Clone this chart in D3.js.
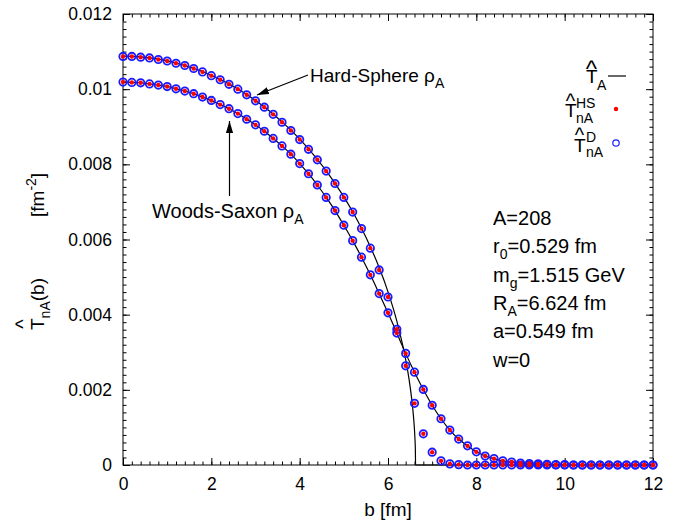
<!DOCTYPE html>
<html>
<head>
<meta charset="utf-8">
<script src="https://cdn.jsdelivr.net/npm/d3@7"></script>
<style>
body { margin: 0; background: #fff; }
text { font-family: "Liberation Sans", Arial, Helvetica, sans-serif; fill: #000; }
</style>
</head>
<body>
<div id="chart"></div>
<script>
// impact parameter grid of the points [fm]
var bGrid = [0,0.2,0.4,0.6,0.8,1,1.2,1.4,1.6,1.8,2,2.2,2.4,2.6,2.8,3,3.2,3.4,3.6,3.8,
  4,4.2,4.4,4.6,4.8,5,5.2,5.4,5.6,5.8,6,6.2,6.4,6.6,6.8,7,7.2,7.4,7.6,7.8,
  8,8.2,8.4,8.6,8.8,9,9.2,9.4,9.6,9.8,10,10.2,10.4,10.6,10.8,11,11.2,11.4,11.6,11.8,12];

// T_nA points, hard-sphere density (HS and D points lie on top of each other)
var hsTnA = [0.01087,0.01087,0.01085,0.01083,0.01079,0.01075,0.01069,0.01063,0.01055,0.01046,
  0.01036,0.01025,0.01013,0.01000,0.00985,0.00969,0.00952,0.00933,0.00912,0.00890,
  0.00866,0.00840,0.00812,0.00782,0.00749,0.00712,0.00673,0.00629,0.00577,0.00519,
  0.00447,0.00361,0.00264,0.00164,0.00083,0.00034,0.00011,0.00003,0.00001,0,
  0,0,0,0,0,0,0,0,0,0,0,0,0,0,0,0,0,0,0,0,0];

// T_nA points, Woods-Saxon density
var wsTnA = [0.01019,0.01018,0.01017,0.01014,0.01011,0.01007,0.01001,0.00995,0.00988,0.00979,
  0.00970,0.00959,0.00948,0.00935,0.00920,0.00905,0.00888,0.00869,0.00849,0.00827,
  0.00802,0.00775,0.00745,0.00712,0.00677,0.00638,0.00597,0.00553,0.00506,0.00456,
  0.00405,0.00351,0.00297,0.00247,0.00201,0.00159,0.00123,0.00093,0.00069,0.00051,
  0.00035,0.00024,0.00017,0.00011,0.00008,0.00005,0.00004,0.00003,0.00002,0.00001,
  0.00001,0,0,0,0,0,0,0,0,0,0];

// T_A curve, Woods-Saxon (same grid)
var wsTA = [0.01019,0.01018,0.01017,0.01014,0.01011,0.01007,0.01001,0.00995,0.00988,0.00979,
  0.00970,0.00959,0.00948,0.00935,0.00920,0.00905,0.00888,0.00869,0.00849,0.00827,
  0.00802,0.00775,0.00745,0.00712,0.00677,0.00638,0.00597,0.00553,0.00506,0.00456,
  0.00405,0.00351,0.00297,0.00247,0.00201,0.00159,0.00123,0.00093,0.00069,0.00051,
  0.00035,0.00024,0.00017,0.00011,0.00008,0.00005,0.00004,0.00003,0.00002,0.00001,
  0.00001,0,0,0,0,0,0,0,0,0,0];

// T_A curve, hard sphere (denser near the edge)
var hsCurveB = [0,0.2,0.4,0.6,0.8,1,1.2,1.4,1.6,1.8,2,2.2,2.4,2.6,2.8,3,3.2,3.4,3.6,3.8,
  4,4.2,4.4,4.6,4.8,5,5.2,5.4,5.6,5.8,6,6.2,6.4,6.45,6.5,6.55,6.58,6.6,6.61,6.62,6.624,12];
var hsCurveT = [0.010877,0.010872,0.010857,0.010832,0.010797,0.010752,0.010697,0.010631,0.010555,0.010467,
  0.010369,0.010259,0.010138,0.010004,0.009857,0.009697,0.009523,0.009334,0.009130,0.008909,
  0.008670,0.008411,0.008130,0.007826,0.007495,0.007134,0.006738,0.006299,0.005809,0.005254,
  0.004608,0.003829,0.002804,0.002476,0.002094,0.001621,0.001251,0.000924,0.000706,0.000377,0,0];

var xTicks = [0,2,4,6,8,10,12];
var yTicks = [0,0.002,0.004,0.006,0.008,0.01,0.012];
var yTickLabels = ["0","0.002","0.004","0.006","0.008","0.01","0.012"];

// parameter block: [main, subscript, rest]
var params = [["A=208","",""],["r","0","=0.529 fm"],["m","g","=1.515 GeV"],
  ["R","A","=6.624 fm"],["a=0.549 fm","",""],["w=0","",""]];

var width = 680, height = 522;
var padL = 123, padR = 653, padT = 14, padB = 465;

var svg = d3.select("#chart").append("svg")
  .attr("width", width)
  .attr("height", height);

svg.append("rect").attr("width", width).attr("height", height).attr("fill", "#fff");

var x = d3.scaleLinear().domain([0, 12]).range([padL, padR]);
var y = d3.scaleLinear().domain([0, 0.012]).range([padB, padT]);

// minor ticks (inward, all four sides)
function minor(axis, tr) {
  var g = svg.append("g").attr("transform", tr).call(axis);
  g.select(".domain").remove();
  g.selectAll("text").remove();
  g.selectAll("line").attr("stroke", "#000");
}
minor(d3.axisBottom(x).ticks(60).tickSize(-3.5), "translate(0," + padB + ")");
minor(d3.axisTop(x).ticks(60).tickSize(-3.5), "translate(0," + padT + ")");
minor(d3.axisLeft(y).ticks(60).tickSize(-3.5), "translate(" + padL + ",0)");
minor(d3.axisRight(y).ticks(60).tickSize(-3.5), "translate(" + padR + ",0)");

// major ticks
var gx = svg.append("g").attr("transform", "translate(0," + padB + ")")
  .call(d3.axisBottom(x).tickValues(xTicks).tickSize(-7).tickPadding(13).tickFormat(d3.format("d")));
var gxt = svg.append("g").attr("transform", "translate(0," + padT + ")")
  .call(d3.axisTop(x).tickValues(xTicks).tickSize(-7).tickFormat(""));
var gy = svg.append("g").attr("transform", "translate(" + padL + ",0)")
  .call(d3.axisLeft(y).tickValues(yTicks).tickSize(-7).tickPadding(11)
    .tickFormat(function(d, i) { return yTickLabels[i]; }));
var gyr = svg.append("g").attr("transform", "translate(" + padR + ",0)")
  .call(d3.axisRight(y).tickValues(yTicks).tickSize(-7).tickFormat(""));
[gx, gxt, gy, gyr].forEach(function(g) {
  g.select(".domain").remove();
  g.selectAll("line").attr("stroke", "#000");
  g.selectAll("text").attr("font-size", 17.5).attr("fill", "#000")
    .style("font-family", "'Liberation Sans', Arial, sans-serif");
});

// frame
svg.append("rect")
  .attr("x", padL).attr("y", padT)
  .attr("width", padR - padL).attr("height", padB - padT)
  .attr("fill", "none").attr("stroke", "#000").attr("stroke-width", 1);

// T_A curves
var line = d3.line()
  .x(function(d) { return x(d[0]); })
  .y(function(d) { return y(d[1]); })
  .curve(d3.curveMonotoneX);

svg.append("path")
  .datum(hsCurveB.map(function(b, i) { return [b, hsCurveT[i]]; }))
  .attr("d", line).attr("fill", "none").attr("stroke", "#000").attr("stroke-width", 1.2);
svg.append("path")
  .datum(bGrid.map(function(b, i) { return [b, wsTA[i]]; }))
  .attr("d", line).attr("fill", "none").attr("stroke", "#000").attr("stroke-width", 1.2);

// points: blue open circles (D) under red dots (HS)
[hsTnA, wsTnA].forEach(function(vals) {
  var pts = bGrid.map(function(b, i) { return [b, vals[i]]; });
  svg.append("g").selectAll("circle").data(pts).enter().append("circle")
    .attr("cx", function(d) { return x(d[0]); })
    .attr("cy", function(d) { return y(d[1]); })
    .attr("r", 3.7)
    .attr("fill", "none").attr("stroke", "#1a1aff").attr("stroke-width", 1.8);
});
[hsTnA, wsTnA].forEach(function(vals) {
  var pts = bGrid.map(function(b, i) { return [b, vals[i]]; });
  svg.append("g").selectAll("circle").data(pts).enter().append("circle")
    .attr("cx", function(d) { return x(d[0]); })
    .attr("cy", function(d) { return y(d[1]); })
    .attr("r", 2.2)
    .attr("fill", "#ff0000");
});

// arrows
var defs = svg.append("defs");
defs.append("marker").attr("id", "head")
  .attr("viewBox", "0 0 10 10").attr("refX", 10).attr("refY", 5)
  .attr("markerWidth", 12).attr("markerHeight", 12).attr("markerUnits", "userSpaceOnUse")
  .attr("orient", "auto")
  .append("path").attr("d", "M0,2 L10,5 L0,8 Z").attr("fill", "#000");

svg.append("line").attr("x1", 308).attr("y1", 75).attr("x2", 257).attr("y2", 95)
  .attr("stroke", "#000").attr("stroke-width", 1.2).attr("marker-end", "url(#head)");
svg.append("line").attr("x1", 229.5).attr("y1", 196).attr("x2", 229.5).attr("y2", 121)
  .attr("stroke", "#000").attr("stroke-width", 1.2).attr("marker-end", "url(#head)");

// labels with subscripts
function subText(px, py, main, sub, rest, size, subSize) {
  var t = svg.append("text").attr("x", px).attr("y", py).attr("font-size", size);
  t.append("tspan").text(main);
  if (sub) t.append("tspan").attr("dy", 6).attr("font-size", subSize).text(sub);
  if (rest) t.append("tspan").attr("dy", sub ? -6 : 0).text(rest);
  return t;
}
subText(310, 82, "Hard-Sphere \u03c1", "A", "", 19, 14);
subText(152, 218, "Woods-Saxon \u03c1", "A", "", 20, 14);

params.forEach(function(p, i) {
  subText(493, 225 + i * 28.3, p[0], p[1], p[2], 20, 14);
});

// legend
function hat(cx, by, size) {
  svg.append("text").attr("x", cx).attr("y", by).attr("text-anchor", "middle")
    .attr("font-size", size).text("^");
}
svg.append("text").attr("x", 586).attr("y", 83).attr("font-size", 19).text("T");
svg.append("text").attr("x", 597).attr("y", 90).attr("font-size", 14).text("A");
hat(591.5, 77, 24);
svg.append("line").attr("x1", 608).attr("x2", 626).attr("y1", 76).attr("y2", 76)
  .attr("stroke", "#000").attr("stroke-width", 1.2);

svg.append("text").attr("x", 565).attr("y", 117).attr("font-size", 19).text("T");
svg.append("text").attr("x", 576).attr("y", 108).attr("font-size", 14).text("HS");
svg.append("text").attr("x", 576).attr("y", 123).attr("font-size", 14).text("nA");
hat(570.5, 108, 20);
svg.append("circle").attr("cx", 616).attr("cy", 109).attr("r", 2.2).attr("fill", "#ff0000");

svg.append("text").attr("x", 574).attr("y", 152).attr("font-size", 19).text("T");
svg.append("text").attr("x", 586).attr("y", 142).attr("font-size", 14).text("D");
svg.append("text").attr("x", 586).attr("y", 157).attr("font-size", 14).text("nA");
hat(579.5, 142, 20);
svg.append("circle").attr("cx", 616).attr("cy", 143).attr("r", 3.2)
  .attr("fill", "none").attr("stroke", "#1a1aff").attr("stroke-width", 1.2);

// axis titles
svg.append("text").attr("x", 388).attr("y", 516).attr("text-anchor", "middle")
  .attr("font-size", 19).text("b [fm]");

var yl = svg.append("g").attr("transform", "translate(44,0) rotate(-90)");
var ylt = yl.append("text").attr("x", -330).attr("y", 0).attr("font-size", 19);
ylt.append("tspan").text("T");
ylt.append("tspan").attr("dy", 6).attr("font-size", 14).text("nA");
ylt.append("tspan").attr("dy", -6).text("(b)");
ylt.append("tspan").attr("x", -217).text("[fm");
ylt.append("tspan").attr("dy", -8).attr("font-size", 14).text("-2");
ylt.append("tspan").attr("dy", 8).text("]");
yl.append("text").attr("x", -324).attr("y", -14).attr("text-anchor", "middle")
  .attr("font-size", 20).text("^");
</script>
</body>
</html>
